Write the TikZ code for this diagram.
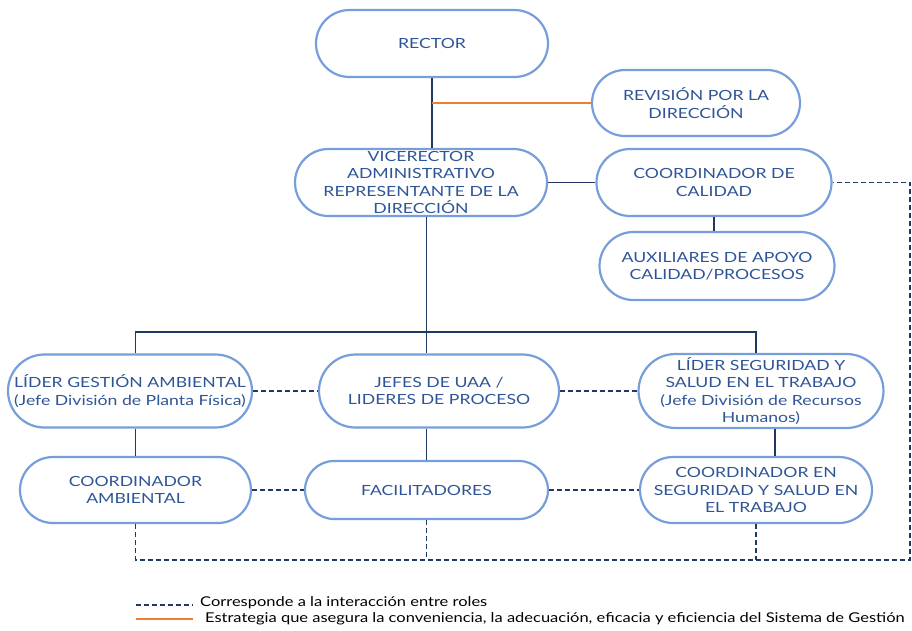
\documentclass[tikz,border=0pt]{standalone}
\usepackage{fontspec}
\setmainfont{Lato}[FakeStretch=1.26]
\newfontfamily\legendfont{Lato}[FakeStretch=1.22]
\usetikzlibrary{positioning, shapes.misc}
\definecolor{roleborder}{RGB}{118,158,218}
\definecolor{roletext}{RGB}{47,85,151}
\definecolor{linkcolor}{RGB}{31,56,100}
\definecolor{strategycolor}{RGB}{237,125,49}
\tikzstyle{role} = [rounded rectangle, draw=roleborder, line width=2.2pt, fill=white, text=roletext, align=center, inner sep=0pt, font=\fontsize{14}{17.5}\selectfont]
\tikzstyle{link} = [draw=linkcolor, line width=1.5pt]
\tikzstyle{interact} = [draw=linkcolor, line width=1.5pt, dash pattern=on 5pt off 3pt]
\tikzstyle{strategy} = [draw=strategycolor, line width=2pt]
\tikzstyle{legend} = [inner sep=0pt, anchor=west, font=\legendfont\fontsize{13.5}{16}\selectfont]

\begin{document}
\begin{tikzpicture}[x=1pt, y=-1pt]
\useasboundingbox (0,0) rectangle (912,630);

% Nodes
\node (rector) [role, minimum width=232pt, minimum height=67pt] at (432,43.5) {RECTOR};
\node (revision) [role, minimum width=208pt, minimum height=66pt] at (696,103) {REVISIÓN POR LA\\DIRECCIÓN};
\node (vice) [role, minimum width=252pt, minimum height=67pt] at (421,182.5) {VICERECTOR\\ADMINISTRATIVO\\REPRESENTANTE DE LA\\DIRECCIÓN};
\node (calidad) [role, minimum width=235pt, minimum height=67pt] at (714,182.5) {COORDINADOR DE\\CALIDAD};
\node (auxiliares) [role, minimum width=235pt, minimum height=68pt] at (717,266) {AUXILIARES DE APOYO\\CALIDAD/PROCESOS};
\node (lidergestion) [role, minimum width=244pt, minimum height=73pt] at (130,391) {LÍDER GESTIÓN AMBIENTAL\\(Jefe División de Planta Física)};
\node (jefes) [role, minimum width=240pt, minimum height=73pt] at (439,391) {JEFES DE UAA /\\LIDERES DE PROCESO};
\node (liderseguridad) [role, minimum width=242pt, minimum height=74pt] at (761,391) {LÍDER SEGURIDAD Y\\SALUD EN EL TRABAJO\\(Jefe División de Recursos\\Humanos)};
\node (coordambiental) [role, minimum width=231pt, minimum height=66pt] at (135.5,490) {COORDINADOR\\AMBIENTAL};
\node (facilitadores) [role, minimum width=243pt, minimum height=58pt] at (426.5,490) {FACILITADORES};
\node (coordseguridad) [role, minimum width=232pt, minimum height=66pt] at (756,490) {COORDINADOR EN\\SEGURIDAD Y SALUD EN\\EL TRABAJO};

% Legend
\node (keyinteract) [legend] at (200,603) {Corresponde a la interacción entre roles};
\node (keystrategy) [legend] at (205,619) {Estrategia que asegura la conveniencia, la adecuación, eficacia y eficiencia del Sistema de Gestión};
\coordinate (dashstart) at (136,605);
\coordinate (linestart) at (136,619);

% Helper coordinates
\coordinate (bus) at (0,332);
\coordinate (bottom) at (0,560);
\coordinate (edge) at (910,0);
\coordinate (drop) at (775,0);

% Solid links
\draw [link] (rector.south) -- (rector.south |- vice.north);
\draw [strategy] (rector.south |- revision.west) -- (revision.west);
\draw [link] (vice.east) -- (calidad.west);
\draw [link] (calidad.south) -- (calidad.south |- auxiliares.north);
\draw [link] (facilitadores |- vice.south) -- (facilitadores |- jefes.north);
\draw [link] (coordambiental |- lidergestion.north) -- (coordambiental |- bus) -- (coordseguridad |- bus) -- (coordseguridad |- liderseguridad.north);
\draw [link] (coordambiental |- lidergestion.south) -- (coordambiental.north);
\draw [link] (facilitadores |- jefes.south) -- (facilitadores.north);
\draw [link] (drop |- liderseguridad.south) -- (drop |- coordseguridad.north);

% Interaction between roles
\draw [interact] (lidergestion.east) -- (jefes.west);
\draw [interact] (jefes.east) -- (liderseguridad.west);
\draw [interact] (coordambiental.east) -- (facilitadores.west);
\draw [interact] (facilitadores.east) -- (coordseguridad.west);
\draw [interact] (coordambiental.south) -- (coordambiental |- bottom) -- (edge |- bottom) -- (edge |- calidad.east) -- (calidad.east);
\draw [interact] (facilitadores.south) -- (facilitadores |- bottom);
\draw [interact] (coordseguridad.south) -- (coordseguridad |- bottom);

% Legend samples
\draw [interact] (dashstart) -- ([xshift=-7pt]keyinteract.west |- dashstart);
\draw [strategy] (linestart) -- ([xshift=-12pt]keystrategy.west |- linestart);

\end{tikzpicture}
\end{document}
